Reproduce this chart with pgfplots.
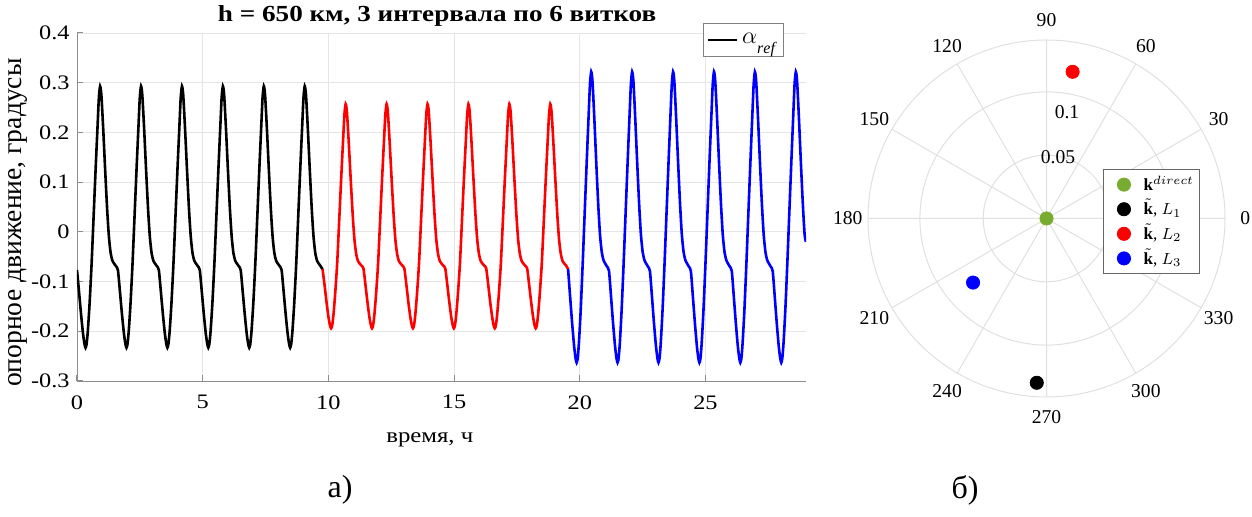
\documentclass[border=0pt]{standalone}
\usepackage{fontspec}
\setmainfont{Liberation Serif}
\newfontfamily\lf[FakeStretch=1.18]{Liberation Serif}
\usepackage{pgfplots}
\usepgfplotslibrary{polar}
\pgfplotsset{compat=1.18}
\pgfplotsset{lmleg/.style={legend image code/.code={\path[draw=none] (0cm,0cm) (0.62cm,0cm); \draw[##1] plot[only marks] coordinates {(0.31cm,0cm)};}}}
\definecolor{mgreen}{rgb}{0.466,0.674,0.188}
\begin{document}
\begin{tikzpicture}
\useasboundingbox (0,0) rectangle (626pt,258.5pt);
\begin{axis}[
  at={(38.5pt,68pt)}, anchor=south west,
  width=364.5pt, height=174pt, scale only axis,
  xmin=0, xmax=29, ymin=-0.3, ymax=0.4,
  xtick={0,5,10,15,20,25}, xticklabels={0,5,10,15,20,25},
  ytick={-0.3,-0.2,-0.1,0,0.1,0.2,0.3,0.4},
  yticklabels={-0.3,-0.2,-0.1,0,0.1,0.2,0.3,0.4},
  axis x line*=bottom, axis y line*=left,
  axis line style={black!45,-},
  tick style={black!45, line width=0.5pt},
  tick align=inside, major tick length=3pt,
  grid=major, major grid style={black!10, line width=0.4pt},
  xticklabel style={font=\fontsize{10.3}{12}\lf, inner sep=0pt, anchor=north, yshift=-7pt},
  yticklabel style={font=\fontsize{10.3}{12}\lf, inner sep=0pt, anchor=east, xshift=-3.5pt},
  title={h = 650 км, 3 интервала по 6 витков},
  title style={font=\fontsize{11.5}{14}\lf\bfseries, at={(0.494,1)}, anchor=center, yshift=2.5pt},
  xlabel={время, ч},
  xlabel style={font=\fontsize{10.5}{12}\lf, at={(0.484,-0.168)}, anchor=center},
  ylabel={опорное движение, градусы},
  ylabel style={font=\fontsize{13.8}{16}\selectfont, at={(-0.081,0.455)}, anchor=center},
  legend style={at={(0.859,1.029)}, anchor=north west, draw=black!50, inner xsep=1.5pt, inner ysep=3pt, font=\fontsize{12}{14}\selectfont, legend cell align=left},
  legend image post style={xscale=0.85},
  every axis plot/.append style={line width=1.3pt, smooth, tension=0.4},
]
\addplot[black] coordinates {
(0,-0.077) (0.08,-0.120) (0.16,-0.165) (0.24,-0.205) (0.30,-0.226) (0.34,-0.233) (0.38,-0.226) (0.43,-0.200) (0.50,-0.145) (0.58,-0.065) (0.66,0.030) (0.74,0.125) (0.82,0.215) (0.87,0.270) (0.92,0.293) (0.97,0.275) (1.04,0.210) (1.12,0.125) (1.20,0.045) (1.27,-0.010) (1.34,-0.043) (1.41,-0.058) (1.48,-0.064) (1.55,-0.069)
(1.628,-0.077) (1.708,-0.120) (1.788,-0.165) (1.868,-0.205) (1.928,-0.226) (1.968,-0.233) (2.008,-0.226) (2.058,-0.200) (2.128,-0.145) (2.208,-0.065) (2.288,0.030) (2.368,0.125) (2.448,0.215) (2.498,0.270) (2.548,0.293) (2.598,0.275) (2.668,0.210) (2.748,0.125) (2.828,0.045) (2.898,-0.010) (2.968,-0.043) (3.038,-0.058) (3.108,-0.064) (3.178,-0.069)
(3.256,-0.077) (3.336,-0.120) (3.416,-0.165) (3.496,-0.205) (3.556,-0.226) (3.596,-0.233) (3.636,-0.226) (3.686,-0.200) (3.756,-0.145) (3.836,-0.065) (3.916,0.030) (3.996,0.125) (4.076,0.215) (4.126,0.270) (4.176,0.293) (4.226,0.275) (4.296,0.210) (4.376,0.125) (4.456,0.045) (4.526,-0.010) (4.596,-0.043) (4.666,-0.058) (4.736,-0.064) (4.806,-0.069)
(4.884,-0.077) (4.964,-0.120) (5.044,-0.165) (5.124,-0.205) (5.184,-0.226) (5.224,-0.233) (5.264,-0.226) (5.314,-0.200) (5.384,-0.145) (5.464,-0.065) (5.544,0.030) (5.624,0.125) (5.704,0.215) (5.754,0.270) (5.804,0.293) (5.854,0.275) (5.924,0.210) (6.004,0.125) (6.084,0.045) (6.154,-0.010) (6.224,-0.043) (6.294,-0.058) (6.364,-0.064) (6.434,-0.069)
(6.512,-0.077) (6.592,-0.120) (6.672,-0.165) (6.752,-0.205) (6.812,-0.226) (6.852,-0.233) (6.892,-0.226) (6.942,-0.200) (7.012,-0.145) (7.092,-0.065) (7.172,0.030) (7.252,0.125) (7.332,0.215) (7.382,0.270) (7.432,0.293) (7.482,0.275) (7.552,0.210) (7.632,0.125) (7.712,0.045) (7.782,-0.010) (7.852,-0.043) (7.922,-0.058) (7.992,-0.064) (8.062,-0.069)
(8.140,-0.077) (8.220,-0.120) (8.300,-0.165) (8.380,-0.205) (8.440,-0.226) (8.480,-0.233) (8.520,-0.226) (8.570,-0.200) (8.640,-0.145) (8.720,-0.065) (8.800,0.030) (8.880,0.125) (8.960,0.215) (9.010,0.270) (9.060,0.293) (9.110,0.275) (9.180,0.210) (9.260,0.125) (9.340,0.045) (9.410,-0.010) (9.480,-0.043) (9.550,-0.058) (9.620,-0.064) (9.690,-0.069) (9.768,-0.075)
};
\addlegendentry{$\alpha_{\lower3pt\hbox{$\scriptstyle\mathit{ref}$}}$}
\addplot[red, forget plot] coordinates {
(9.768,-0.075) (9.848,-0.107) (9.928,-0.142) (10.008,-0.173) (10.068,-0.189) (10.108,-0.194) (10.148,-0.189) (10.198,-0.169) (10.268,-0.126) (10.348,-0.065) (10.428,0.020) (10.508,0.106) (10.588,0.187) (10.638,0.236) (10.688,0.257) (10.738,0.241) (10.808,0.182) (10.888,0.106) (10.968,0.034) (11.038,-0.016) (11.108,-0.045) (11.178,-0.059) (11.248,-0.064) (11.318,-0.068)
(11.396,-0.074) (11.476,-0.107) (11.556,-0.142) (11.636,-0.173) (11.696,-0.189) (11.736,-0.194) (11.776,-0.189) (11.826,-0.169) (11.896,-0.126) (11.976,-0.065) (12.056,0.020) (12.136,0.106) (12.216,0.187) (12.266,0.236) (12.316,0.257) (12.366,0.241) (12.436,0.182) (12.516,0.106) (12.596,0.034) (12.666,-0.016) (12.736,-0.045) (12.806,-0.059) (12.876,-0.064) (12.946,-0.068)
(13.024,-0.074) (13.104,-0.107) (13.184,-0.142) (13.264,-0.173) (13.324,-0.189) (13.364,-0.194) (13.404,-0.189) (13.454,-0.169) (13.524,-0.126) (13.604,-0.065) (13.684,0.020) (13.764,0.106) (13.844,0.187) (13.894,0.236) (13.944,0.257) (13.994,0.241) (14.064,0.182) (14.144,0.106) (14.224,0.034) (14.294,-0.016) (14.364,-0.045) (14.434,-0.059) (14.504,-0.064) (14.574,-0.068)
(14.652,-0.074) (14.732,-0.107) (14.812,-0.142) (14.892,-0.173) (14.952,-0.189) (14.992,-0.194) (15.032,-0.189) (15.082,-0.169) (15.152,-0.126) (15.232,-0.065) (15.312,0.020) (15.392,0.106) (15.472,0.187) (15.522,0.236) (15.572,0.257) (15.622,0.241) (15.692,0.182) (15.772,0.106) (15.852,0.034) (15.922,-0.016) (15.992,-0.045) (16.062,-0.059) (16.132,-0.064) (16.202,-0.068)
(16.280,-0.074) (16.360,-0.107) (16.440,-0.142) (16.520,-0.173) (16.580,-0.189) (16.620,-0.194) (16.660,-0.189) (16.710,-0.169) (16.780,-0.126) (16.860,-0.065) (16.940,0.020) (17.020,0.106) (17.100,0.187) (17.150,0.236) (17.200,0.257) (17.250,0.241) (17.320,0.182) (17.400,0.106) (17.480,0.034) (17.550,-0.016) (17.620,-0.045) (17.690,-0.059) (17.760,-0.064) (17.830,-0.068)
(17.908,-0.074) (17.988,-0.107) (18.068,-0.142) (18.148,-0.173) (18.208,-0.189) (18.248,-0.194) (18.288,-0.189) (18.338,-0.169) (18.408,-0.126) (18.488,-0.065) (18.568,0.020) (18.648,0.106) (18.728,0.187) (18.778,0.236) (18.828,0.257) (18.878,0.241) (18.948,0.182) (19.028,0.106) (19.108,0.034) (19.178,-0.016) (19.248,-0.045) (19.318,-0.059) (19.388,-0.064) (19.458,-0.068) (19.536,-0.075)
};
\addplot[blue, forget plot] coordinates {
(19.536,-0.075) (19.616,-0.130) (19.696,-0.183) (19.776,-0.230) (19.836,-0.255) (19.876,-0.263) (19.916,-0.255) (19.966,-0.224) (20.036,-0.159) (20.116,-0.065) (20.196,0.038) (20.276,0.140) (20.356,0.238) (20.406,0.297) (20.456,0.322) (20.506,0.303) (20.576,0.232) (20.656,0.140) (20.736,0.054) (20.806,-0.006) (20.876,-0.041) (20.946,-0.057) (21.016,-0.064) (21.086,-0.070)
(21.164,-0.079) (21.244,-0.130) (21.324,-0.183) (21.404,-0.230) (21.464,-0.255) (21.504,-0.263) (21.544,-0.255) (21.594,-0.224) (21.664,-0.159) (21.744,-0.065) (21.824,0.038) (21.904,0.140) (21.984,0.238) (22.034,0.297) (22.084,0.322) (22.134,0.303) (22.204,0.232) (22.284,0.140) (22.364,0.054) (22.434,-0.006) (22.504,-0.041) (22.574,-0.057) (22.644,-0.064) (22.714,-0.070)
(22.792,-0.079) (22.872,-0.130) (22.952,-0.183) (23.032,-0.230) (23.092,-0.255) (23.132,-0.263) (23.172,-0.255) (23.222,-0.224) (23.292,-0.159) (23.372,-0.065) (23.452,0.038) (23.532,0.140) (23.612,0.238) (23.662,0.297) (23.712,0.322) (23.762,0.303) (23.832,0.232) (23.912,0.140) (23.992,0.054) (24.062,-0.006) (24.132,-0.041) (24.202,-0.057) (24.272,-0.064) (24.342,-0.070)
(24.420,-0.079) (24.500,-0.130) (24.580,-0.183) (24.660,-0.230) (24.720,-0.255) (24.760,-0.263) (24.800,-0.255) (24.850,-0.224) (24.920,-0.159) (25.000,-0.065) (25.080,0.038) (25.160,0.140) (25.240,0.238) (25.290,0.297) (25.340,0.322) (25.390,0.303) (25.460,0.232) (25.540,0.140) (25.620,0.054) (25.690,-0.006) (25.760,-0.041) (25.830,-0.057) (25.900,-0.064) (25.970,-0.070)
(26.048,-0.079) (26.128,-0.130) (26.208,-0.183) (26.288,-0.230) (26.348,-0.255) (26.388,-0.263) (26.428,-0.255) (26.478,-0.224) (26.548,-0.159) (26.628,-0.065) (26.708,0.038) (26.788,0.140) (26.868,0.238) (26.918,0.297) (26.968,0.322) (27.018,0.303) (27.088,0.232) (27.168,0.140) (27.248,0.054) (27.318,-0.006) (27.388,-0.041) (27.458,-0.057) (27.528,-0.064) (27.598,-0.070)
(27.676,-0.079) (27.756,-0.130) (27.836,-0.183) (27.916,-0.230) (27.976,-0.255) (28.016,-0.263) (28.056,-0.255) (28.106,-0.224) (28.176,-0.159) (28.256,-0.065) (28.336,0.038) (28.416,0.140) (28.496,0.238) (28.546,0.297) (28.596,0.322) (28.646,0.303) (28.716,0.232) (28.796,0.140) (28.876,0.054) (28.946,-0.006) (29.000,-0.020)
};
\end{axis}
\begin{polaraxis}[
  at={(523.25pt,149.25pt)}, anchor=center,
  width=178.5pt, height=178.5pt, scale only axis,
  ymin=0, ymax=0.141,
  xtick={0,30,60,90,120,150,180,210,240,270,300,330}, xticklabels={},
  ytick={0.05,0.1}, yticklabels={},
  grid=major, major grid style={black!12, line width=0.5pt},
  axis line style={black!12, line width=0.5pt},
  tick style={draw=none},
  clip=false,
  legend style={at={(0.658,0.638)}, anchor=north west, draw=black!60, font=\fontsize{8.5}{10}\selectfont, inner xsep=1.5pt, inner ysep=1.5pt, row sep=0.3pt, legend cell align=left,
    nodes={inner sep=1pt, text height=7.8pt, text depth=2.2pt}},
]
\addplot[only marks, mark=*, mark size=3.3pt, color=mgreen, lmleg] coordinates {(0,0)};
\addlegendentry{$\mathbf{k}^{direct}$}
\addplot[only marks, mark=*, mark size=3.3pt, color=black, lmleg] coordinates {(266.6,0.130)};
\addlegendentry{$\tilde{\mathbf{k}}$, $L_1$}
\addplot[only marks, mark=*, mark size=3.3pt, color=red, lmleg] coordinates {(79.9,0.1177)};
\addlegendentry{$\tilde{\mathbf{k}}$, $L_2$}
\addplot[only marks, mark=*, mark size=3.3pt, color=blue, lmleg] coordinates {(221.1,0.077)};
\addlegendentry{$\tilde{\mathbf{k}}$, $L_3$}
\pgfplotsinvokeforeach{0,30,60,90,120,150,180,210,240,270,300,330}{
  \node[font=\fontsize{9.8}{11}\selectfont, inner sep=0pt] at (axis cs:#1,0.157) {#1};
}
\node[font=\fontsize{9.8}{11}\selectfont, inner sep=0pt] at (axis cs:79.4,0.0494) {0.05};
\node[font=\fontsize{9.8}{11}\selectfont, inner sep=0pt] at (axis cs:79.1,0.0857) {0.1};
\end{polaraxis}
\node[font=\fontsize{16}{18}\selectfont] at (170pt,13.5pt) {а)};
\node[font=\fontsize{16}{18}\selectfont] at (482.5pt,13.5pt) {б)};
\end{tikzpicture}
\end{document}
